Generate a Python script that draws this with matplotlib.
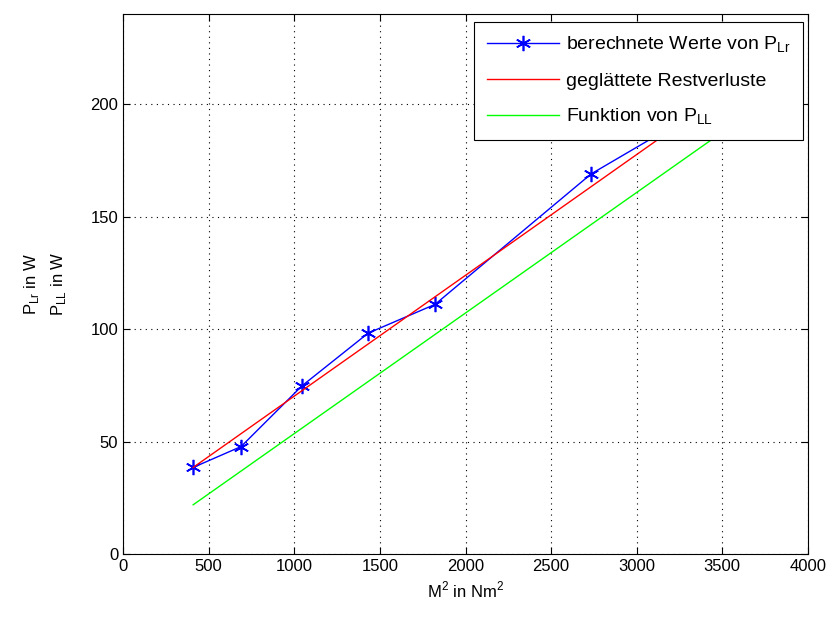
import numpy as np
import matplotlib.pyplot as plt

plt.rcParams['font.family'] = ['Liberation Sans', 'DejaVu Sans']

# Messwerte (M^2 in Nm^2, P_Lr in W)
m2 = [409, 689, 1045, 1431, 1822, 2734, 3430]
p_lr = [38.5, 47.8, 74.8, 98.2, 111.0, 169.0, 200.0]

# geglaettete Restverluste (Endpunkte der Ausgleichsgeraden)
m2_fit = [409, 3430]
p_fit = [38.5, 200.7]

# Funktion von P_LL
m2_ll = [409, 3430]
p_ll = [21.9, 183.8]

fig = plt.figure(figsize=(8.32, 6.17), dpi=100)
ax = fig.add_axes([0.148, 0.102, 0.823, 0.875])

ax.plot(m2, p_lr, color='#0000ff', lw=1, marker=(6, 2, 0), ms=11, mew=1.2,
        label='berechnete Werte von P$_{\\mathregular{Lr}}$')
ax.plot(m2_fit, p_fit, color='#ff0000', lw=1, label='geglättete Restverluste')
ax.plot(m2_ll, p_ll, color='#00ff00', lw=1, label='Funktion von P$_{\\mathregular{LL}}$')

ax.set_xlim(0, 4000)
ax.set_ylim(0, 240)
ax.set_xticks(np.arange(0, 4001, 500))
ax.set_yticks(np.arange(0, 201, 50))
ax.grid(True, color='black', linestyle=(0, (1, 4)), lw=0.8)
ax.tick_params(direction='in', top=True, right=True, labelsize=12, length=5)
for s in ax.spines.values():
    s.set_linewidth(0.8)

ax.set_xlabel('M$^{\\mathregular{2}}$ in Nm$^{\\mathregular{2}}$', fontsize=12)
ax.set_ylabel('P$_{\\mathregular{Lr}}$ in W\nP$_{\\mathregular{LL}}$ in W', fontsize=12,
              linespacing=1.6, labelpad=16)

leg = ax.legend(loc='upper right', bbox_to_anchor=(0.9927, 0.985), borderaxespad=0,
                fontsize=14, fancybox=False, edgecolor='black', framealpha=1,
                handlelength=3.7, handletextpad=0.35, borderpad=0.65,
                labelspacing=0.88)
leg.get_frame().set_linewidth(0.8)

fig.savefig('out.png')
